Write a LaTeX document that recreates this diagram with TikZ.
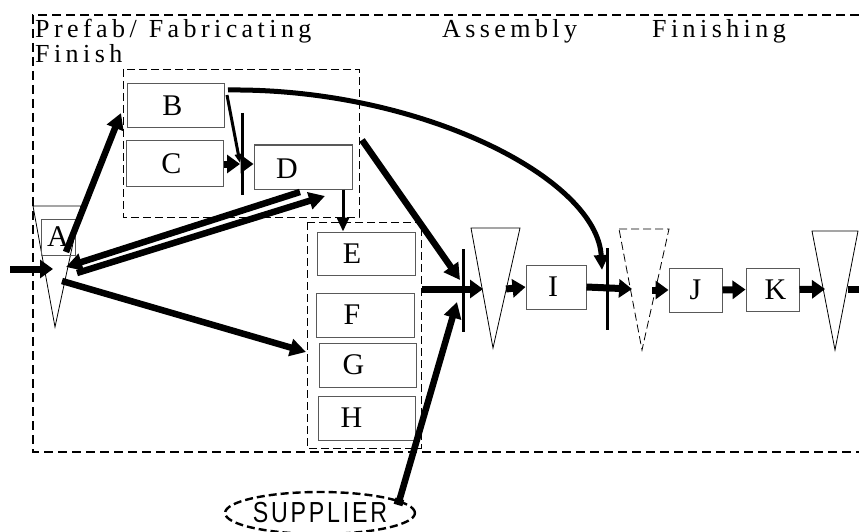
\documentclass[tikz,border=0pt]{standalone}
\usepackage{fontspec}
\setmainfont{Liberation Serif}
\newfontfamily\hdrfont[LetterSpace=17]{Liberation Serif}
\newfontfamily\supfont[LetterSpace=12]{Liberation Sans}
\usetikzlibrary{arrows.meta,shapes.geometric}
\begin{document}
\begin{tikzpicture}[x=1pt,y=-1pt,
  frame/.style={line width=2.6pt, dash pattern=on 9pt off 5pt},
  group/.style={line width=0.8pt, dash pattern=on 8pt off 4pt},
  box/.style={draw=black!65, line width=1pt, inner sep=0pt, fill=white},
  lbl/.style={font=\fontsize{30}{30}\selectfont},
  hdr/.style={font=\hdrfont\fontsize{26}{26}\selectfont, inner sep=0pt, anchor=base west},
  tri/.style={line width=0.8pt},
  big/.style={line width=7pt, -{Triangle[length=13pt,width=18pt]}},
  mid/.style={line width=6.5pt, -{Triangle[length=16pt,width=17pt]}},
  thin/.style={line width=3pt, -{Triangle[length=14pt,width=12pt]}},
  barline/.style={line width=3pt},
]
\useasboundingbox (0,0) rectangle (859,532);

% outer frame
\draw[frame] (859,15) -- (33,15) -- (33,452) -- (859,452);

% headers
\node[hdr] (h1) at (35,38) {Prefab/\hspace{12pt}Fabricating};
\node[hdr] (h2) at (35,63) {Finish};
\node[hdr] (h3) at (442,38) {Assembly};
\node[hdr] (h4) at (652,38) {Finishing};

% group boxes
\draw[group] (123,69) rectangle (359,217);
\draw[group] (307,222) rectangle (421,448);

% triangles
\coordinate (t1a) at (33,206); \coordinate (t1b) at (81,206); \coordinate (t1c) at (55,327);
\coordinate (t2a) at (471,228); \coordinate (t2b) at (520,228); \coordinate (t2c) at (493,348);
\coordinate (t3a) at (619,229); \coordinate (t3b) at (669,229); \coordinate (t3c) at (642,350);
\coordinate (t4a) at (812,231); \coordinate (t4b) at (858,231); \coordinate (t4c) at (835,350);
\draw[tri] (t1a) -- (t1b) -- (t1c) -- cycle;
\draw[tri] (t2a) -- (t2b) -- (t2c) -- cycle;
\draw[tri, dash pattern=on 8pt off 4pt] (t3a) -- (t3b) -- (t3c) -- cycle;
\draw[tri] (t4a) -- (t4b) -- (t4c) -- cycle;

% boxes
\node[box, minimum width=97, minimum height=44, label={[lbl,xshift=-3pt]center:B}] (B) at (175.5,106) {};
\node[box, minimum width=97, minimum height=45, label={[lbl,xshift=-3pt]center:C}] (C) at (174.5,163.5) {};
\node[box, minimum width=98, minimum height=44, label={[lbl,xshift=-16pt,yshift=-2pt]center:D}] (D) at (303,167) {};
\node[box, minimum width=98, minimum height=43, label={[lbl,xshift=-14pt]center:E}] (E) at (366,253.5) {};
\node[box, minimum width=98, minimum height=44, label={[lbl,xshift=-13pt]center:F}] (F) at (365,315) {};
\node[box, minimum width=97, minimum height=44, label={[lbl,xshift=-14pt]center:G}] (G) at (367.5,365) {};
\node[box, minimum width=97, minimum height=44, label={[lbl,xshift=-15pt]center:H}] (H) at (366.5,418) {};
\node[box, minimum width=60, minimum height=44, label={[lbl,xshift=-3pt]center:I}] (I) at (556,287) {};
\node[box, minimum width=53, minimum height=44, lbl] (J) at (695.5,290) {J};
\node[box, minimum width=53, minimum height=43, label={[lbl,xshift=3pt]center:K}] (K) at (772.5,289.5) {};
\node[draw=black!65, line width=0.8pt, fill=none, minimum width=34, minimum height=36, inner sep=0pt, lbl] (A) at (58,237) {A};

% supplier
\node[ellipse, draw, line width=2.4pt, dash pattern=on 8pt off 4pt, minimum width=176, minimum height=42, inner sep=0pt,
      font=\supfont\fontsize{29}{29}\selectfont] (SUP) at (320,513) {\scalebox{0.8}[1]{SUPPLIER}};

% bars
\coordinate (b1t) at (242,113); \coordinate (b1b) at (242,195);
\coordinate (b2t) at (463,249); \coordinate (b2b) at (463,332);
\coordinate (b3t) at (607,248); \coordinate (b3b) at (607,330);
\draw[barline] (b1t) -- (b1b);
\draw[barline] (b2t) -- (b2b);
\draw[barline] (b3t) -- (b3b);

% connector end points
\coordinate (inS) at (10,269);   \coordinate (inE) at (53,269);
\coordinate (aB1) at (66,252);   \coordinate (aB2) at (121,113);
\coordinate (aG1) at (62,281);   \coordinate (aG2) at (306,352);
\coordinate (dA1) at (300,192);  \coordinate (dA2) at (66,267);
\coordinate (aD1) at (77,273);   \coordinate (aD2) at (325,196);
\coordinate (dB1) at (362,140);  \coordinate (dB2) at (460,280);
\coordinate (sB1) at (398,505);  \coordinate (sB2) at (457,302);
\coordinate (g2o) at (422,289);  \coordinate (t2in) at (483,289);
\coordinate (t2o) at (506,289);
\coordinate (t3in) at (632,289); \coordinate (t3o) at (652,290);
\coordinate (t4in) at (825,289); \coordinate (t4o) at (848,289);
\coordinate (outE) at (885,289);
\coordinate (cb1) at (240,164);  \coordinate (cb2) at (244,164);
\coordinate (bB1) at (227,95);   \coordinate (bB2) at (240,163);
\coordinate (cv1) at (228,90);   \coordinate (cv2) at (602,270);

% connectors
\draw[big] (inS) -- (inE);
\draw[mid] (aB1) -- (aB2);
\draw[mid] (aG1) -- (aG2);
\draw[mid] (dA1) -- (dA2);
\draw[mid] (aD1) -- (aD2);
\draw[mid] (dB1) -- (dB2);
\draw[mid, {Bar[width=9pt]}-{Triangle[length=16pt,width=17pt]}] (sB1) -- (sB2);
\draw[big] (g2o) -- (t2in);
\draw[big] (t2o) -- (I.west);
\draw[big] (I.east) -- (t3in);
\draw[big] (t3o) -- (J.west);
\draw[big] (J.east) -- (K.west);
\draw[big] (K.east) -- (t4in);
\draw[big] (t4o) -- (outE);
\draw[big] (C.east |- cb1) -- (cb1);
\draw[big] (cb2) -- (D.west |- cb2);
\draw[line width=3pt, -{Triangle[length=9pt,width=7pt]}] (bB1) -- (bB2);
\draw[thin] (D.south -| 343,0) -- (E.north -| 343,0);
\draw[line width=5pt, -{Triangle[length=15pt,width=14pt]}] (cv1) .. controls (420,88) and (597,178) .. (cv2);
\end{tikzpicture}
\end{document}
